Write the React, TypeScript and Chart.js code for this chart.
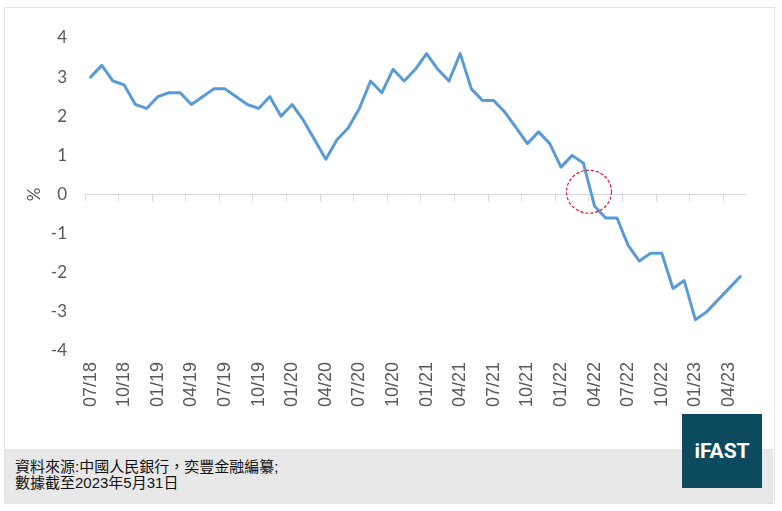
import { useEffect, useRef } from 'react';
import { Chart, registerables } from 'chart.js';

Chart.register(...registerables);

// monthly, 07/18 .. 05/23
const months = [
  '07/18', '08/18', '09/18', '10/18', '11/18', '12/18',
  '01/19', '02/19', '03/19', '04/19', '05/19', '06/19', '07/19', '08/19', '09/19', '10/19', '11/19', '12/19',
  '01/20', '02/20', '03/20', '04/20', '05/20', '06/20', '07/20', '08/20', '09/20', '10/20', '11/20', '12/20',
  '01/21', '02/21', '03/21', '04/21', '05/21', '06/21', '07/21', '08/21', '09/21', '10/21', '11/21', '12/21',
  '01/22', '02/22', '03/22', '04/22', '05/22', '06/22', '07/22', '08/22', '09/22', '10/22', '11/22', '12/22',
  '01/23', '02/23', '03/23', '04/23', '05/23',
];

const values = [
  3.0, 3.3, 2.9, 2.8, 2.3, 2.2,
  2.5, 2.6, 2.6, 2.3, 2.5, 2.7, 2.7, 2.5, 2.3, 2.2, 2.5, 2.0,
  2.3, 1.9, 1.4, 0.9, 1.4, 1.7, 2.2, 2.9, 2.6, 3.2, 2.9, 3.2,
  3.6, 3.2, 2.9, 3.6, 2.7, 2.4, 2.4, 2.1, 1.7, 1.3, 1.6, 1.3,
  0.7, 1.0, 0.8, -0.3, -0.6, -0.6, -1.3, -1.7, -1.5, -1.5, -2.4, -2.2,
  -3.2, -3.0, -2.7, -2.4, -2.1,
];

const yMin = -4;
const yMax = 4;
const labelEvery = 3;

// red dashed circle around the zero crossing (category index, value)
const markAt = { index: 44.5, value: 0.07 };

const AXIS_GREY = '#d9d9d9';
const TEXT_GREY = '#595959';

const circlePlugin = {
  id: 'zeroCross',
  afterDatasetsDraw(chart: any) {
    const { ctx, scales } = chart;
    const cx = scales.x.getPixelForValue(markAt.index);
    const cy = scales.y.getPixelForValue(markAt.value);
    ctx.save();
    ctx.strokeStyle = '#e3102b';
    ctx.lineWidth = 1.2;
    ctx.setLineDash([3, 2]);
    ctx.beginPath();
    ctx.ellipse(cx, cy, 22.5, 21.5, 0, 0, Math.PI * 2);
    ctx.stroke();
    ctx.restore();
  },
};

function LineChart() {
  const canvasRef = useRef<HTMLCanvasElement | null>(null);

  useEffect(() => {
    const ctx = canvasRef.current?.getContext('2d');
    if (!ctx) return;

    const chart = new Chart(ctx, {
      type: 'line',
      data: {
        labels: months,
        datasets: [
          {
            data: values,
            xAxisID: 'x',
            yAxisID: 'y',
            borderColor: '#5b9bd5',
            borderWidth: 3,
            borderJoinStyle: 'round',
            borderCapStyle: 'round',
            pointRadius: 0,
            pointHoverRadius: 0,
            tension: 0,
            fill: false,
          },
        ],
      },
      options: {
        animation: false,
        responsive: true,
        maintainAspectRatio: false,
        events: [],
        layout: { padding: { top: 30, right: 26, bottom: 28, left: 0 } },
        plugins: {
          legend: { display: false },
          tooltip: { enabled: false },
        },
        scales: {
          // axis line sitting on zero, with tick marks every 3 months
          x: {
            type: 'category',
            position: { y: 0 },
            offset: true,
            ticks: { display: false, autoSkip: false },
            grid: {
              offset: true,
              drawOnChartArea: false,
              drawTicks: true,
              tickLength: 6,
              tickWidth: 1,
              tickColor: (c: any) => (c.index !== undefined && c.index % labelEvery === 0 ? AXIS_GREY : 'rgba(0,0,0,0)'),
            },
            border: { display: true, color: AXIS_GREY, width: 1 },
          },
          // labels at the bottom
          x2: {
            type: 'category',
            position: 'bottom',
            labels: months,
            offset: true,
            grid: { display: false, drawTicks: false },
            border: { display: false },
            ticks: {
              autoSkip: false,
              minRotation: 90,
              maxRotation: 90,
              padding: 11,
              color: TEXT_GREY,
              font: { family: '"Liberation Sans", Arial, sans-serif', size: 18 },
              callback: (_v: any, i: number) => (i % labelEvery === 0 ? months[i] : ''),
            },
            afterFit: (s: any) => {
              s.height = 70;
            },
          },
          y: {
            min: yMin,
            max: yMax,
            grid: { display: false, drawTicks: false },
            border: { display: false },
            ticks: {
              stepSize: 1,
              padding: 18,
              color: TEXT_GREY,
              font: { family: 'Lato, "Open Sans", sans-serif', size: 17 },
            },
            title: {
              display: true,
              text: '%',
              color: TEXT_GREY,
              padding: { top: 19, bottom: 0 },
              font: { family: 'Lato, "Open Sans", sans-serif', size: 17 },
            },
            afterFit: (s: any) => {
              s.width = 80;
            },
          },
        },
      } as any,
      plugins: [circlePlugin],
    });

    return () => {
      chart.destroy();
    };
  }, []);

  return <canvas ref={canvasRef}></canvas>;
}

export default function App() {
  return (
    <div style={{ position: 'fixed', left: 0, top: 0, width: 782, height: 511, background: '#fff', overflow: 'hidden' }}>
      <div
        style={{
          position: 'absolute',
          left: 4,
          top: 7,
          width: 771,
          height: 497,
          border: '1px solid #e4e4e4',
          boxSizing: 'border-box',
        }}
      />
      <div style={{ position: 'absolute', left: 5, top: 449, width: 768, height: 54, background: '#e8e8e8' }} />
      <div style={{ position: 'absolute', left: 5, top: 8, width: 768, height: 441 }}>
        <LineChart />
      </div>
      <div
        style={{
          position: 'absolute',
          left: 15,
          top: 459,
          fontFamily: '"Liberation Sans", "Noto Sans CJK TC", sans-serif',
          fontSize: 15,
          lineHeight: '16px',
          color: '#111',
          whiteSpace: 'nowrap',
        }}
      >
        <div>資料來源:中國人民銀行，奕豐金融編纂;</div>
        <div>數據截至2023年5月31日</div>
      </div>
      <div
        style={{
          position: 'absolute',
          left: 682,
          top: 414,
          width: 80,
          height: 74,
          background: '#0c4a60',
          color: '#fff',
          fontFamily: 'Roboto, "Liberation Sans", sans-serif',
          fontWeight: 700,
          fontSize: 21,
          display: 'flex',
          alignItems: 'center',
          justifyContent: 'center',
        }}
      >
        iFAST
      </div>
    </div>
  );
}
